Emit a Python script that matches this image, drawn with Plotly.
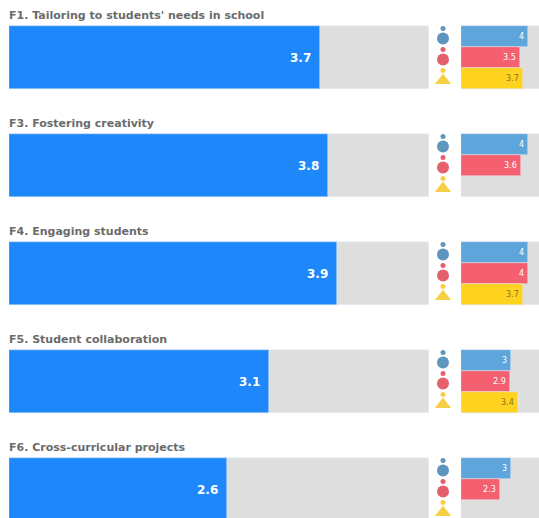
import plotly.graph_objects as go

WIDTH = 539
HEIGHT = 518

titles = [
    "F1. Tailoring to students' needs in school",
    "F3. Fostering creativity",
    "F4. Engaging students",
    "F5. Student collaboration",
    "F6. Cross-curricular projects",
]
overall = [3.7, 3.8, 3.9, 3.1, 2.6]
overall_labels = ["3.7", "3.8", "3.9", "3.1", "2.6"]

blue_values = [4.0, 4.0, 4.0, 3.0, 3.0]
blue_labels = ["4", "4", "4", "3", "3"]
red_values = [3.5, 3.6, 4.0, 2.9, 2.3]
red_labels = ["3.5", "3.6", "4", "2.9", "2.3"]
yellow_values = [3.7, None, 3.7, 3.4, None]
yellow_labels = ["3.7", "", "3.7", "3.4", ""]

rows = list(range(len(titles)))
GRAY = "#dedede"
BLUE = "#1e88fb"
TEXT_GRAY = "#6b6b6b"

# one row is 108px tall on the y axes, main bars are 63px of that
ROW_PX = 108
SLOT = 21 / ROW_PX

groups = [
    ("#5da5da", "#5f96bd", blue_values, blue_labels, -SLOT, "#ffffff"),
    ("#f4606f", "#e4606d", red_values, red_labels, 0, "#ffffff"),
    ("#ffd21f", "#f7cf45", yellow_values, yellow_labels, SLOT, "#8a7420"),
]

fig = go.Figure()

# main panel
fig.add_trace(go.Bar(x=[5] * len(rows), y=rows, orientation="h", width=63 / ROW_PX,
                     marker_color=GRAY, xaxis="x", yaxis="y", hoverinfo="skip"))
fig.add_trace(go.Bar(x=overall, y=rows, orientation="h", width=63 / ROW_PX,
                     marker_color=BLUE, xaxis="x", yaxis="y"))

# small panel
fig.add_trace(go.Bar(x=[5] * len(rows), y=rows, orientation="h", width=63 / ROW_PX,
                     marker_color=GRAY, xaxis="x2", yaxis="y", hoverinfo="skip"))

annotations = []
for color, icon_color, values, labels, offset, label_color in groups:
    ys = [r + offset for r in rows]
    fig.add_trace(go.Bar(x=values, y=ys, orientation="h", width=SLOT,
                         marker_color=color, xaxis="x2", yaxis="y"))
    # icon: head and body
    is_triangle = color == "#ffd21f"
    fig.add_trace(go.Scatter(x=[0] * len(rows), y=[y + 2 / ROW_PX for y in ys], mode="markers",
                             xaxis="x3", yaxis="y",
                             marker=dict(color=icon_color, size=14 if is_triangle else 12,
                                         symbol="triangle-up" if is_triangle else "circle"),
                             hoverinfo="skip"))
    fig.add_trace(go.Scatter(x=[0] * len(rows), y=[y - 8 / ROW_PX for y in ys], mode="markers",
                             xaxis="x3", yaxis="y",
                             marker=dict(color=icon_color, size=5), hoverinfo="skip"))
    for y, v, lab in zip(ys, values, labels):
        if v is None:
            continue
        annotations.append(dict(x=v, y=y, xref="x2", yref="y", text=lab, showarrow=False,
                                xanchor="right", xshift=-2,
                                font=dict(family="DejaVu Sans", size=8, color=label_color)))

for r, title, v, lab in zip(rows, titles, overall, overall_labels):
    annotations.append(dict(x=0, y=r - 42 / ROW_PX, xref="x", yref="y", text=title, showarrow=False,
                            xanchor="left", yanchor="middle", xshift=-2,
                            font=dict(family="DejaVu Sans", size=11, color=TEXT_GRAY, weight="bold")))
    annotations.append(dict(x=v, y=r, xref="x", yref="y", text=lab, showarrow=False,
                            xanchor="right", xshift=-7,
                            font=dict(family="DejaVu Sans", size=12, color="#ffffff", weight="bold")))

fig.update_layout(
    width=WIDTH, height=HEIGHT,
    autosize=False,
    margin=dict(l=0, r=0, t=0, b=0),
    paper_bgcolor="#ffffff", plot_bgcolor="#ffffff",
    barmode="overlay", bargap=0,
    showlegend=False,
    annotations=annotations,
    xaxis=dict(domain=[9 / WIDTH, 429 / WIDTH], range=[0, 5], visible=False),
    xaxis2=dict(domain=[461 / WIDTH, 1], range=[0, 78 / 16.75], visible=False, anchor="y"),
    xaxis3=dict(domain=[433 / WIDTH, 453 / WIDTH], range=[-1, 1], visible=False, anchor="y"),
    yaxis=dict(range=[(518 - 57.5) / ROW_PX, -57.5 / ROW_PX], visible=False),
)

# page default body margin would push the figure 8px in
fig.write_html("out.html", config={"displayModeBar": False},
               post_script="document.body.style.margin='0';document.documentElement.style.overflow='hidden';")
